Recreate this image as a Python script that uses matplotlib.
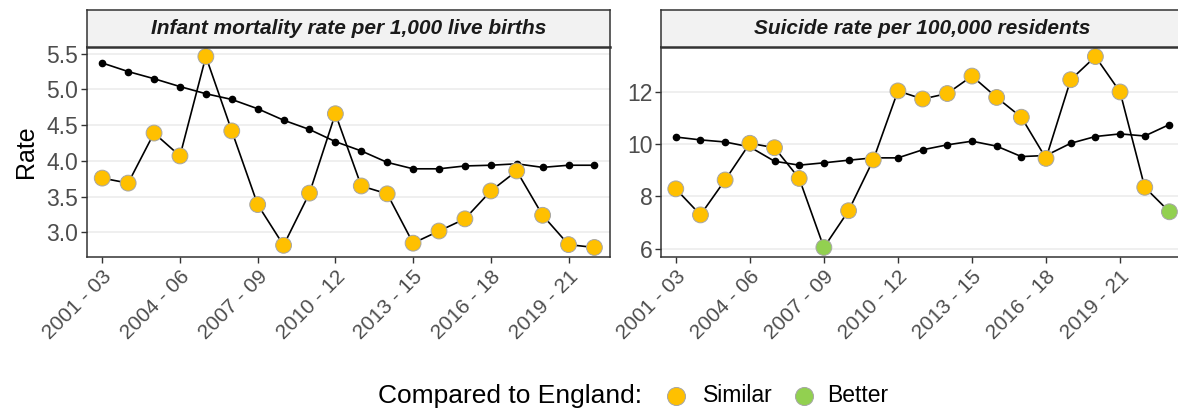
import numpy as np
import matplotlib.pyplot as plt
from matplotlib.lines import Line2D

plt.rcParams['font.family'] = ['Liberation Sans', 'DejaVu Sans']

# three-year periods
periods = ["2001 - 03", "2002 - 04", "2003 - 05", "2004 - 06", "2005 - 07",
           "2006 - 08", "2007 - 09", "2008 - 10", "2009 - 11", "2010 - 12",
           "2011 - 13", "2012 - 14", "2013 - 15", "2014 - 16", "2015 - 17",
           "2016 - 18", "2017 - 19", "2018 - 20", "2019 - 21", "2020 - 22",
           "2021 - 23"]

# infant mortality per 1,000 live births (2001-03 .. 2020-22)
infant_local = [3.76, 3.69, 4.39, 4.07, 5.46, 4.42, 3.39, 2.82, 3.55, 4.66,
                3.65, 3.54, 2.85, 3.02, 3.19, 3.58, 3.86, 3.24, 2.83, 2.79]
infant_england = [5.37, 5.25, 5.15, 5.04, 4.94, 4.86, 4.73, 4.57, 4.44, 4.27,
                  4.14, 3.98, 3.89, 3.89, 3.93, 3.94, 3.96, 3.91, 3.94, 3.94]
infant_compare = ["Similar"] * 20

# suicide per 100,000 (2001-03 .. 2021-23)
suicide_local = [8.29, 7.29, 8.63, 10.04, 9.87, 8.69, 6.04, 7.45, 9.40, 12.05,
                 11.74, 11.95, 12.62, 11.80, 11.04, 9.46, 12.48, 13.37, 12.01,
                 8.35, 7.41]
suicide_england = [10.28, 10.17, 10.09, 9.90, 9.35, 9.20, 9.29, 9.39, 9.48, 9.48,
                   9.79, 9.98, 10.12, 9.93, 9.53, 9.57, 10.04, 10.30, 10.40,
                   10.32, 10.76]
suicide_compare = ["Similar"] * 6 + ["Better"] + ["Similar"] * 13 + ["Better"]

titles = ["Infant mortality rate per 1,000 live births",
          "Suicide rate per 100,000 residents"]
infant_yticks = [3.0, 3.5, 4.0, 4.5, 5.0, 5.5]
suicide_yticks = [6, 8, 10, 12]

colours = {"Similar": "#FFC000", "Better": "#92D050"}
grey_txt = "#4D4D4D"

fig = plt.figure(figsize=(11.78, 4.09), dpi=100)

panel_y, panel_h = 0.3716, 0.5135
strip_h = 0.0905
panel_w = 0.4442
lefts = [0.0736, 0.5611]

datasets = [
    (infant_local, infant_england, infant_compare, infant_yticks, "{:.1f}"),
    (suicide_local, suicide_england, suicide_compare, suicide_yticks, "{:.0f}"),
]

for i, (local, eng, comp, yt, fmt) in enumerate(datasets):
    ax = fig.add_axes([lefts[i], panel_y, panel_w, panel_h])
    n = len(local)
    x = np.arange(n)
    ax.plot(x, local, color="black", lw=1.2, zorder=2)
    ax.plot(x, eng, color="black", lw=1.2, marker="o", markersize=4.5, zorder=3)
    ax.scatter(x, local, s=130, c=[colours[c] for c in comp],
               edgecolors="#A6A6A6", linewidths=0.7, zorder=4)

    ax.set_xlim(-0.6, n - 1 + 0.6)
    lo = min(min(local), min(eng))
    hi = max(max(local), max(eng))
    pad = (hi - lo) * 0.05
    ax.set_ylim(lo - pad, hi + pad)

    tick_pos = list(range(0, n, 3))
    ax.set_xticks(tick_pos)
    ax.set_xticklabels([periods[p] for p in tick_pos], rotation=45,
                       ha="right", va="top", rotation_mode="anchor")
    ax.set_yticks(yt)
    ax.set_yticklabels([fmt.format(v) for v in yt])
    ax.tick_params(axis="both", colors="#333333", labelcolor=grey_txt,
                   length=4, width=1)
    ax.tick_params(axis="x", pad=3, labelsize=15)
    ax.tick_params(axis="y", pad=2, labelsize=16.5)
    ax.grid(axis="y", color="#EBEBEB", lw=1.1, zorder=0)
    ax.set_axisbelow(True)
    for sp in ax.spines.values():
        sp.set_color("#333333")
        sp.set_linewidth(1.1)
    if i == 0:
        ax.set_ylabel("Rate", fontsize=18, color="black", labelpad=6)

    # facet strip
    sax = fig.add_axes([lefts[i], panel_y + panel_h, panel_w, strip_h])
    sax.set_facecolor("#F2F2F2")
    sax.set_xticks([])
    sax.set_yticks([])
    for sp in sax.spines.values():
        sp.set_color("#333333")
        sp.set_linewidth(1.1)
    sax.spines["bottom"].set_linewidth(1.8)
    sax.text(0.5, 0.5, titles[i], transform=sax.transAxes, ha="center",
             va="center", fontsize=15, fontweight="bold", fontstyle="italic",
             color="#1A1A1A")

# legend along the bottom, placed by hand
leg_y = 1 - 396 / 409
fig.text(378 / 1178, leg_y, "Compared to England:", fontsize=19,
         ha="left", va="center", color="black")
for key, mx, tx in [("Similar", 676, 703), ("Better", 804, 827)]:
    fig.add_artist(Line2D([mx / 1178], [leg_y], transform=fig.transFigure,
                          ls="none", marker="o", markersize=13,
                          markerfacecolor=colours[key],
                          markeredgecolor="#A6A6A6", markeredgewidth=0.7))
    fig.text(tx / 1178, leg_y, key, fontsize=16.5, ha="left", va="center",
             color="black")

fig.savefig("out.png", dpi=100)
